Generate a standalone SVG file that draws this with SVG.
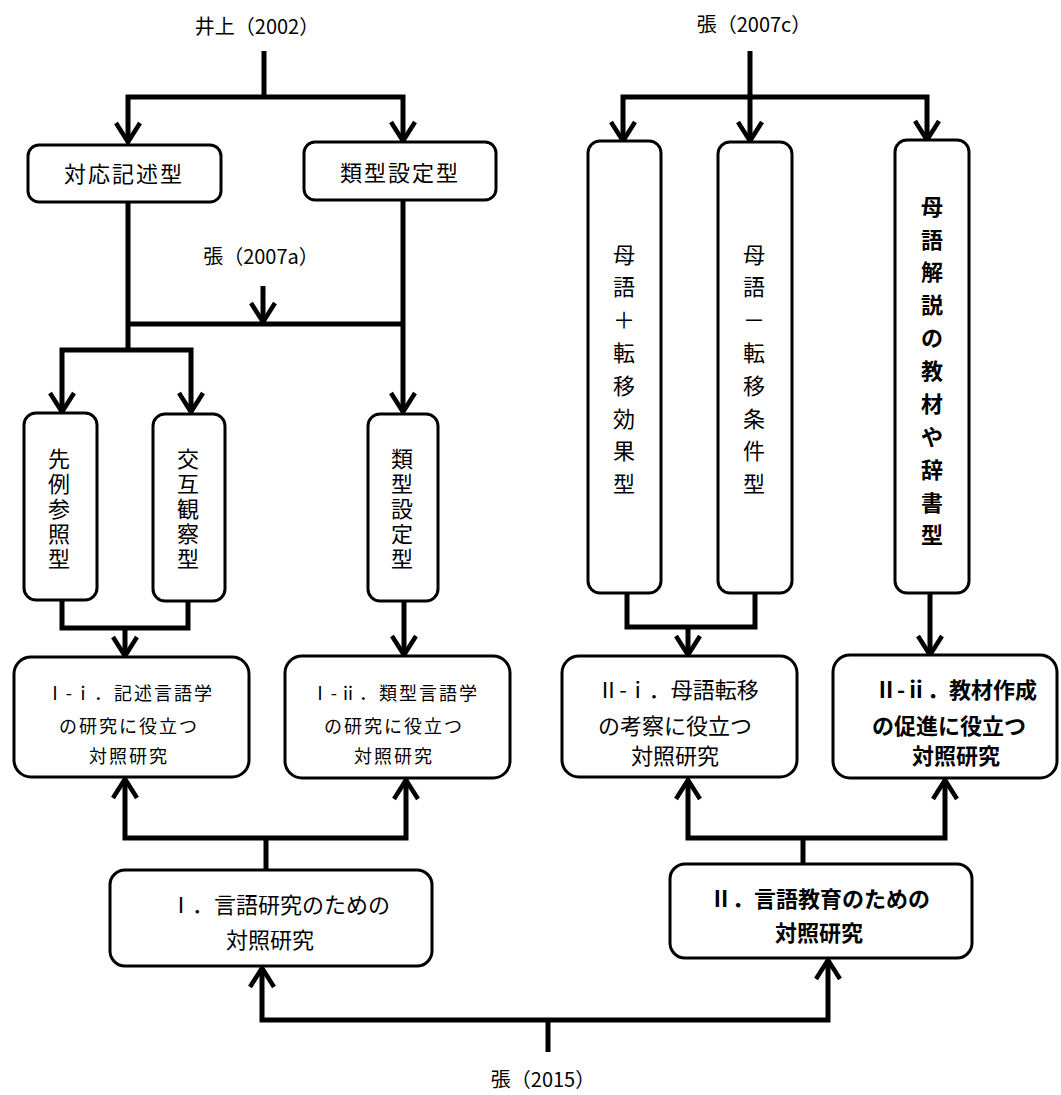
<svg xmlns="http://www.w3.org/2000/svg" width="1061" height="1095" viewBox="0 0 1061 1095">
  <style>
    text { font-family: "Noto Sans CJK JP", "Noto Sans CJK SC", sans-serif; fill: #000; dominant-baseline: central; text-anchor: middle; }
    .src { font-size: 20px; }
    .box { fill: #fff; stroke: #000; stroke-width: 3; }
    .lbl { font-size: 22px; }
    .vt { font-size: 22px; }
    .res { font-size: 18px; letter-spacing: 2px; }
    .res2 { font-size: 22px; }
    .b { font-weight: bold; }
    .wire { fill: none; stroke: #000; stroke-width: 5; stroke-linejoin: miter; }
  </style>
  <defs>
    <marker id="arrow" markerUnits="userSpaceOnUse" markerWidth="30" markerHeight="30" viewBox="0 0 30 30" refX="24" refY="15" orient="auto">
      <path d="M5,3 L24,15 L5,27" fill="none" stroke="#000" stroke-width="4.5" stroke-linejoin="miter"/>
    </marker>
  </defs>

  <rect width="1061" height="1095" fill="#fff"/>

  <!-- source labels -->
  <g id="src-inoue"><text class="src" x="257" y="25">井上（2002）</text></g>
  <g id="src-zhang-2007a"><text class="src" x="261" y="255">張（2007a）</text></g>
  <g id="src-zhang-2007c"><text class="src" x="754" y="23">張（2007c）</text></g>
  <g id="src-zhang-2015"><text class="src" x="543" y="1078">張（2015）</text></g>

  <!-- connectors -->
  <g id="connectors" class="wire">
    <!-- 井上（2002） -->
    <path d="M264,51 V97"/>
    <path d="M264,97 H128 V142" marker-end="url(#arrow)"/>
    <path d="M264,97 H403 V141" marker-end="url(#arrow)"/>
    <!-- 張（2007a） -->
    <path d="M128,202 V350"/>
    <path d="M403,200 V412" marker-end="url(#arrow)"/>
    <path d="M128,324 H403"/>
    <path d="M263,286 V322" marker-end="url(#arrow)"/>
    <path d="M128,350 H62 V412" marker-end="url(#arrow)"/>
    <path d="M128,350 H191 V412" marker-end="url(#arrow)"/>
    <!-- merge into I-i / I-ii -->
    <path d="M62,600 V628 H188 V601"/>
    <path d="M125,628 V656" marker-end="url(#arrow)"/>
    <path d="M404,601 V655" marker-end="url(#arrow)"/>
    <!-- 張（2007c） -->
    <path d="M750,51 V97"/>
    <path d="M750,97 H623 V141" marker-end="url(#arrow)"/>
    <path d="M750,97 V141" marker-end="url(#arrow)"/>
    <path d="M750,97 H927 V140" marker-end="url(#arrow)"/>
    <!-- merge into II-i / II-ii -->
    <path d="M627,594 V627 H755 V594"/>
    <path d="M688,627 V655" marker-end="url(#arrow)"/>
    <path d="M930,593 V655" marker-end="url(#arrow)"/>
    <!-- I branch -->
    <path d="M266,870 V838"/>
    <path d="M266,838 H125 V779" marker-end="url(#arrow)"/>
    <path d="M266,838 H406 V780" marker-end="url(#arrow)"/>
    <!-- II branch -->
    <path d="M803,864 V838"/>
    <path d="M803,838 H688 V780" marker-end="url(#arrow)"/>
    <path d="M803,838 H945 V780" marker-end="url(#arrow)"/>
    <!-- 張（2015） -->
    <path d="M548,1052 V1020"/>
    <path d="M548,1020 H262 V968" marker-end="url(#arrow)"/>
    <path d="M548,1020 H828 V960" marker-end="url(#arrow)"/>
  </g>

  <!-- type boxes, upper row -->
  <g id="n-taiou">
    <rect class="box" x="28" y="145" width="193" height="57" rx="11"/>
    <text class="lbl" x="124" y="172" letter-spacing="2">対応記述型</text>
  </g>
  <g id="n-ruikei">
    <rect class="box" x="304" y="142" width="192" height="58" rx="11"/>
    <text class="lbl" x="400" y="171" letter-spacing="2">類型設定型</text>
  </g>

  <!-- vertical boxes, left -->
  <g id="n-senrei">
    <rect class="box" x="24" y="413" width="73" height="187" rx="12"/>
    <text class="vt" x="59 59 59 59 59" y="457 482 507 532 557">先例参照型</text>
  </g>
  <g id="n-kougo">
    <rect class="box" x="153" y="414" width="72" height="187" rx="12"/>
    <text class="vt" x="188 188 188 188 188" y="457 482 507 532 557">交互観察型</text>
  </g>
  <g id="n-ruikei-v">
    <rect class="box" x="368" y="414" width="70" height="187" rx="12"/>
    <text class="vt" x="402 402 402 402 402" y="457 482 507 532 557">類型設定型</text>
  </g>

  <!-- vertical boxes, right -->
  <g id="n-boplus">
    <rect class="box" x="588" y="141" width="73" height="452" rx="12"/>
    <text class="vt" x="624 624 624 624 624 624 624 624" y="253 285 318 351 384 417 449 482">母語＋転移効果型</text>
  </g>
  <g id="n-bominus">
    <rect class="box" x="718" y="142" width="74" height="451" rx="12"/>
    <text class="vt" x="754 754 754 754 754 754 754 754" y="253 285 318 351 384 417 449 482">母語－転移条件型</text>
  </g>
  <g id="n-kyozai">
    <rect class="box" x="895" y="140" width="74" height="453" rx="12"/>
    <text class="vt b" x="932 932 932 932 932 932 932 932 932 932 932" y="205 238 270 303 336 369 402 435 468 501 533">母語解説の教材や辞書型</text>
  </g>

  <!-- purpose boxes -->
  <g id="n-I-i">
    <rect class="box" x="14" y="657" width="235" height="120" rx="17"/>
    <text class="res" x="130" y="692">Ⅰ-ⅰ．記述言語学</text>
    <text class="res" x="129" y="725">の研究に役立つ</text>
    <text class="res" x="129" y="755">対照研究</text>
  </g>
  <g id="n-I-ii">
    <rect class="box" x="285" y="656" width="225" height="122" rx="17"/>
    <text class="res" x="395" y="692">Ⅰ-ⅱ．類型言語学</text>
    <text class="res" x="394" y="725">の研究に役立つ</text>
    <text class="res" x="394" y="755">対照研究</text>
  </g>
  <g id="n-II-i">
    <rect class="box" x="562" y="656" width="235" height="121" rx="17"/>
    <text class="res2" x="678" y="688">Ⅱ-ⅰ．母語転移</text>
    <text class="res2" x="675" y="724">の考察に役立つ</text>
    <text class="res2" x="675" y="754">対照研究</text>
  </g>
  <g id="n-II-ii">
    <rect class="box" x="833" y="655" width="224" height="123" rx="17"/>
    <text class="res2 b" x="956" y="688">Ⅱ-ⅱ．教材作成</text>
    <text class="res2 b" x="949" y="724">の促進に役立つ</text>
    <text class="res2 b" x="956" y="754">対照研究</text>
  </g>

  <!-- top-level boxes -->
  <g id="n-I">
    <rect class="box" x="110" y="870" width="322" height="96" rx="15"/>
    <text class="res2" x="280" y="903">Ⅰ．言語研究のための</text>
    <text class="res2" x="270" y="938">対照研究</text>
  </g>
  <g id="n-II">
    <rect class="box" x="670" y="864" width="302" height="94" rx="15"/>
    <text class="res2 b" x="820" y="897">Ⅱ．言語教育のための</text>
    <text class="res2 b" x="819" y="931">対照研究</text>
  </g>
</svg>
